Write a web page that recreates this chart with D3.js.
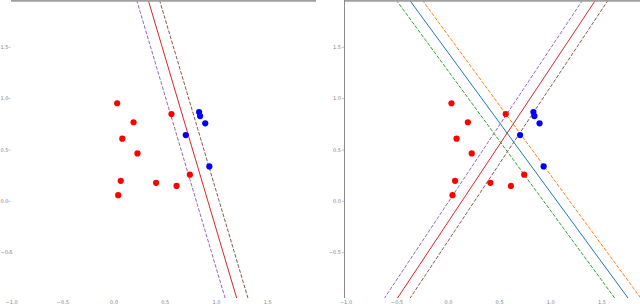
<!DOCTYPE html>
<html>
<head>
<meta charset="utf-8">
<script src="https://cdn.jsdelivr.net/npm/d3@7"></script>
<style>
  body { margin: 0; background: #fff; }
  svg { display: block; }
</style>
</head>
<body>
<div id="chart"></div>
<script>
// points (same in both panels)
const redX = [0.03, 0.19, 0.08, 0.56, 0.228, 0.065, 0.04, 0.41, 0.61, 0.74]
const redY = [0.955, 0.77, 0.61, 0.85, 0.467, 0.20, 0.06, 0.18, 0.15, 0.26]
const blueX = [0.83, 0.84, 0.89, 0.70, 0.93]
const blueY = [0.87, 0.83, 0.76, 0.645, 0.34]

// separating lines: y = slope * x + intercept
const leftSlopes = [-3.36, -3.36, -3.36]
const leftIntercepts = [2.70, 3.08, 3.45]
const leftColors = ['#9467bd', '#d62728', '#8c564b']
const leftDash = [true, false, true]

const rightSlopes = [-1.36, -1.36, -1.36, 1.5, 1.5, 1.5]
const rightIntercepts = [1.267, 1.444, 1.613, -0.006, -0.196, -0.381]
const rightColors = ['#2ca02c', '#1f77b4', '#ff7f0e', '#9467bd', '#d62728', '#8c564b']
const rightDash = [true, false, true, true, false, true]

const xTicks = [-1.0, -0.5, 0.0, 0.5, 1.0, 1.5]
const yTicks = [-0.5, 0.0, 0.5, 1.0, 1.5]

const W = 640
const H = 304

const svg = d3.select('#chart')
  .append('svg')
  .attr('width', W)
  .attr('height', H)

const fmt = t => d3.format('.1f')(t).replace('-', '\u2212')

function drawPanel (id, box, x0, slopes, intercepts, colors, dashes, leftSpine) {
  const x = d3.scaleLinear().domain([-1, 1.5]).range([x0, x0 + 256])
  const y = d3.scaleLinear().domain([-0.5, 1.5]).range([252.7, 47.3])

  const g = svg.append('g')

  g.append('clipPath').attr('id', id)
    .append('rect')
    .attr('x', box.left).attr('y', 1)
    .attr('width', box.right - box.left).attr('height', box.bottom - 1)

  const plot = g.append('g').attr('clip-path', `url(#${id})`)

  // lines
  const yTop = y.invert(0)
  const yBot = y.invert(box.bottom + 2)
  slopes.forEach((m, i) => {
    const c = intercepts[i]
    const pts = [yTop, yBot].map(v => [(v - c) / m, v])
    plot.append('path')
      .attr('d', d3.line().x(d => x(d[0])).y(d => y(d[1]))(pts))
      .attr('fill', 'none')
      .attr('stroke', colors[i])
      .attr('stroke-width', 1)
      .attr('stroke-dasharray', dashes[i] ? '3.7,1.6' : null)
  })

  // points
  redX.forEach((v, i) => {
    plot.append('circle')
      .attr('cx', x(v)).attr('cy', y(redY[i])).attr('r', 3.1)
      .attr('fill', '#ff0000')
  })
  blueX.forEach((v, i) => {
    plot.append('circle')
      .attr('cx', x(v)).attr('cy', y(blueY[i])).attr('r', 3.1)
      .attr('fill', '#0000ff')
  })

  // spines
  g.append('line')
    .attr('x1', box.left).attr('x2', box.right)
    .attr('y1', 0.8).attr('y2', 0.8)
    .attr('stroke', '#a0a0a0').attr('stroke-width', 1.8)
  if (leftSpine) {
    g.append('line')
      .attr('x1', box.left).attr('x2', box.left)
      .attr('y1', 0).attr('y2', box.bottom)
      .attr('stroke', '#8a8a8a').attr('stroke-width', 1)
  }

  // y ticks
  const yAxis = g.append('g')
  yTicks.forEach(t => {
    yAxis.append('line')
      .attr('x1', box.left - 2.5).attr('x2', box.left - 0.5)
      .attr('y1', y(t)).attr('y2', y(t))
      .attr('stroke', '#999').attr('stroke-width', 0.6)
    const label = yAxis.append('text')
      .attr('x', box.left - 3.5).attr('y', y(t))
      .attr('dy', '0.35em')
      .attr('text-anchor', 'end')
      .attr('font-family', 'DejaVu Sans')
      .attr('font-size', 5)
      .attr('fill', '#808080')
      .text(fmt(t))
    // keep labels inside the page
    const bb = label.node().getBBox()
    if (bb.x < 0.5) {
      label.attr('x', box.left - 3.5 - bb.x + 0.5)
    }
  })

  // x ticks
  const xAxis = g.append('g')
  xTicks.forEach(t => {
    xAxis.append('text')
      .attr('x', Math.max(x(t), 5.5)).attr('y', 304)
      .attr('text-anchor', 'middle')
      .attr('font-family', 'DejaVu Sans')
      .attr('font-size', 5)
      .attr('fill', '#808080')
      .text(fmt(t))
  })
}

drawPanel('clipL', { left: 11, right: 316, bottom: 298 }, 11.7,
  leftSlopes, leftIntercepts, leftColors, leftDash, false)
drawPanel('clipR', { left: 344.5, right: 640, bottom: 298 }, 346,
  rightSlopes, rightIntercepts, rightColors, rightDash, true)
</script>
</body>
</html>
